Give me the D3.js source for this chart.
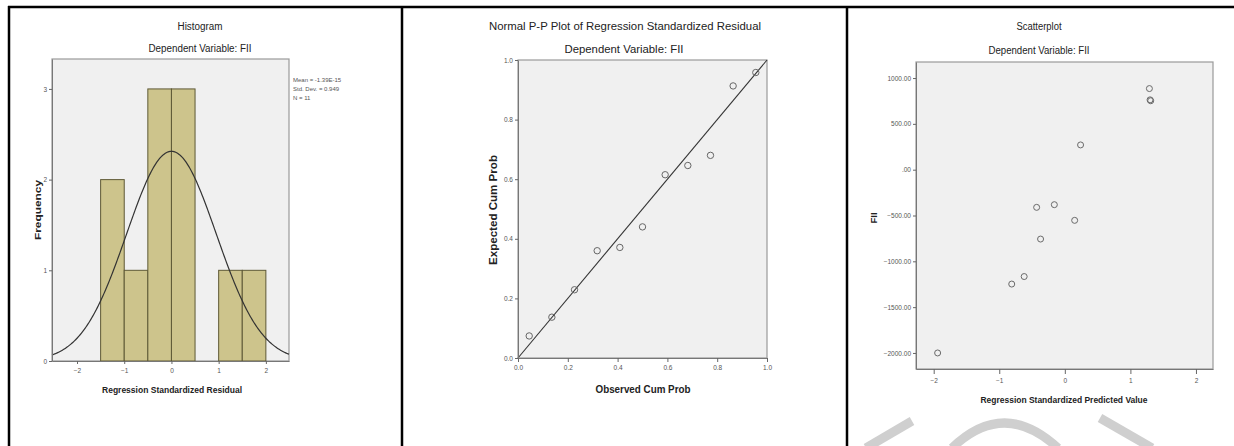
<!DOCTYPE html>
<html>
<head>
<meta charset="utf-8">
<script src="https://cdn.jsdelivr.net/npm/d3@7"></script>
<style>
    body { margin: 0; background: #fff; }
    svg { display: block; font-family: "Liberation Sans", Arial, sans-serif; }
</style>
</head>
<body>
<svg id="chart" width="1234" height="446"></svg>
<script>
"use strict";

// Histogram of regression standardized residuals
var histBinStart = [-1.5, -1.0, -0.5, 0.0, 0.5, 1.0, 1.5];
var histCounts = [2, 1, 3, 3, 0, 1, 1];
var histBinWidth = 0.5;
var histXTicks = [-2, -1, 0, 1, 2];
var histYTicks = [0, 1, 2, 3];
var histStats = { mean: 0, sd: 0.949, n: 11 };
var histLegend = ["Mean = -1.39E-15", "Std. Dev. = 0.949", "N = 11"];

// Normal P-P plot
var ppObserved = [0.045, 0.136, 0.227, 0.318, 0.409, 0.500, 0.591, 0.682, 0.773, 0.864, 0.955];
var ppExpected = [0.074, 0.137, 0.229, 0.360, 0.371, 0.440, 0.615, 0.646, 0.680, 0.913, 0.958];
var ppTicks = [0.0, 0.2, 0.4, 0.6, 0.8, 1.0];

// Scatterplot: predicted value vs FII
var scPredicted = [1.29, 1.30, 1.31, 0.24, -0.43, -0.16, 0.15, -0.37, -0.62, -0.81, -1.94];
var scFII = [885, 762, 752, 270, -411, -382, -553, -757, -1166, -1248, -2000];
var scXTicks = [-2, -1, 0, 1, 2];
var scYTicks = [1000, 500, 0, -500, -1000, -1500, -2000];

var svg = d3.select("#chart");
svg.append("rect").attr("width", 1234).attr("height", 446).attr("fill", "#fff");

var intFmt = d3.format("d");

function label(x, y, str, size, weight, len, rotate) {
    var t = svg.append("text")
        .attr("x", x)
        .attr("y", y)
        .attr("text-anchor", "middle")
        .attr("dominant-baseline", "central")
        .attr("font-size", size)
        .attr("font-weight", weight || "normal")
        .attr("fill", "#222")
        .text(str);
    if (len) t.attr("textLength", len).attr("lengthAdjust", "spacingAndGlyphs");
    if (rotate) t.attr("transform", "rotate(-90," + x + "," + y + ")");
    return t;
}

function frame(x0, y0, x1, y1) {
    svg.append("rect")
        .attr("x", x0).attr("y", y0)
        .attr("width", x1 - x0).attr("height", y1 - y0)
        .attr("fill", "#f0f0f0")
        .attr("stroke", "#9a9a9a")
        .attr("stroke-width", 1.2);
}

function styleAxis(g) {
    g.select(".domain").attr("stroke", "#777");
    g.selectAll(".tick line").attr("stroke", "#666");
    g.selectAll(".tick text").attr("fill", "#555").attr("font-size", 6.5)
        .attr("font-family", "\"Liberation Sans\", Arial, sans-serif");
}

// ---------- Histogram ----------
(function () {
    var L = 52, R = 289, T = 59, B = 361;
    var x = d3.scaleLinear().domain([-2.53, 2.49]).range([L, R]);
    var y = d3.scaleLinear().domain([0, 3.33]).range([B, T]);

    label(200, 26, "Histogram", 10, "normal", 45);
    label(200, 48, "Dependent Variable: FII", 10, "normal", 103);
    frame(L, T, R, B);

    svg.append("g").selectAll("rect")
        .data(histBinStart.map(function (s, i) { return { s: s, c: histCounts[i] }; })
            .filter(function (d) { return d.c > 0; }))
        .enter().append("rect")
        .attr("x", function (d) { return x(d.s); })
        .attr("width", function (d) { return x(d.s + histBinWidth) - x(d.s); })
        .attr("y", function (d) { return y(d.c); })
        .attr("height", function (d) { return y(0) - y(d.c); })
        .attr("fill", "#cdc48c")
        .attr("stroke", "#5e5936")
        .attr("stroke-width", 1);

    var k = histStats.n * histBinWidth / (histStats.sd * Math.sqrt(2 * Math.PI));
    var xs = d3.range(x.domain()[0], x.domain()[1] + 0.001, 0.02);
    svg.append("path")
        .datum(xs)
        .attr("fill", "none")
        .attr("stroke", "#333")
        .attr("stroke-width", 1.2)
        .attr("d", d3.line()
            .x(function (v) { return x(v); })
            .y(function (v) {
                var z = (v - histStats.mean) / histStats.sd;
                return y(k * Math.exp(-0.5 * z * z));
            }));

    var gx = svg.append("g").attr("transform", "translate(0," + B + ")")
        .call(d3.axisBottom(x).tickValues(histXTicks).tickFormat(intFmt).tickSize(3).tickSizeOuter(0).tickPadding(4));
    var gy = svg.append("g").attr("transform", "translate(" + L + ",0)")
        .call(d3.axisLeft(y).tickValues(histYTicks).tickFormat(intFmt).tickSize(3).tickSizeOuter(0).tickPadding(2));
    styleAxis(gx);
    styleAxis(gy);

    svg.append("g").selectAll("text").data(histLegend).enter().append("text")
        .attr("x", 293)
        .attr("y", function (d, i) { return 82 + i * 9; })
        .attr("font-size", 6)
        .attr("fill", "#555")
        .text(function (d) { return d; });

    label(38, 210, "Frequency", 9, "bold", 60, true);
    label(172, 390, "Regression Standardized Residual", 9, "bold", 140);
})();

// ---------- Normal P-P plot ----------
(function () {
    var L = 518, R = 767, T = 60, B = 358;
    var x = d3.scaleLinear().domain([0, 1]).range([L, R]);
    var y = d3.scaleLinear().domain([0, 1]).range([B, T]);
    var fmt = d3.format(".1f");

    label(625, 26, "Normal P-P Plot of Regression Standardized Residual", 11, "normal", 272);
    label(624, 49, "Dependent Variable: FII", 11, "normal", 119);
    frame(L, T, R, B);

    svg.append("line")
        .attr("x1", x(0)).attr("y1", y(0))
        .attr("x2", x(1)).attr("y2", y(1))
        .attr("stroke", "#333")
        .attr("stroke-width", 1.1);

    svg.append("g").selectAll("circle")
        .data(ppObserved.map(function (o, i) { return [o, ppExpected[i]]; }))
        .enter().append("circle")
        .attr("cx", function (d) { return x(d[0]); })
        .attr("cy", function (d) { return y(d[1]); })
        .attr("r", 3.2)
        .attr("fill", "none")
        .attr("stroke", "#666")
        .attr("stroke-width", 1);

    var gx = svg.append("g").attr("transform", "translate(0," + B + ")")
        .call(d3.axisBottom(x).tickValues(ppTicks).tickFormat(fmt).tickSize(4).tickSizeOuter(0).tickPadding(3));
    var gy = svg.append("g").attr("transform", "translate(" + L + ",0)")
        .call(d3.axisLeft(y).tickValues(ppTicks).tickFormat(fmt).tickSize(3).tickSizeOuter(0).tickPadding(2));
    styleAxis(gx);
    styleAxis(gy);

    label(493, 210, "Expected Cum Prob", 10, "bold", 110, true);
    label(643, 389, "Observed Cum Prob", 10, "bold", 95);
})();

// ---------- Scatterplot ----------
(function () {
    var L = 916, R = 1213, T = 62, B = 369;
    var x = d3.scaleLinear().domain([-2.27, 2.26]).range([L, R]);
    var y = d3.scaleLinear().domain([-2175, 1175]).range([B, T]);
    var yFmt = function (v) { return v === 0 ? ".00" : d3.format(".2f")(v); };

    label(1039, 26, "Scatterplot", 10, "normal", 45);
    label(1039, 50, "Dependent Variable: FII", 10, "normal", 101);
    frame(L, T, R, B);

    svg.append("g").selectAll("circle")
        .data(scPredicted.map(function (p, i) { return [p, scFII[i]]; }))
        .enter().append("circle")
        .attr("cx", function (d) { return x(d[0]); })
        .attr("cy", function (d) { return y(d[1]); })
        .attr("r", 3)
        .attr("fill", "none")
        .attr("stroke", "#6a6a6a")
        .attr("stroke-width", 1);

    var gx = svg.append("g").attr("transform", "translate(0," + B + ")")
        .call(d3.axisBottom(x).tickValues(scXTicks).tickFormat(intFmt).tickSize(5).tickSizeOuter(0).tickPadding(4));
    var gy = svg.append("g").attr("transform", "translate(" + L + ",0)")
        .call(d3.axisLeft(y).tickValues(scYTicks).tickFormat(yFmt).tickSize(3).tickSizeOuter(0).tickPadding(2));
    styleAxis(gx);
    styleAxis(gy);

    label(874, 218, "FII", 9, "bold", 11, true);
    label(1064, 400, "Regression Standardized Predicted Value", 9, "bold", 167);
})();

// faint watermark strokes under the scatterplot
var wm = svg.append("g").attr("fill", "none").attr("stroke", "#cfcfcf").attr("stroke-width", 9);
wm.append("path").attr("d", "M866,448 L912,421");
wm.append("path").attr("d", "M952,448 Q1004,398 1058,448");
wm.append("path").attr("d", "M1100,418 L1152,448");

// table rules
var rules = svg.append("g").attr("stroke", "#000").attr("stroke-width", 2.5);
rules.append("line").attr("x1", 8).attr("x2", 1234).attr("y1", 7).attr("y2", 7);
[9, 402, 847].forEach(function (xv) {
    rules.append("line").attr("x1", xv).attr("x2", xv).attr("y1", 6).attr("y2", 446);
});
</script>
</body>
</html>
